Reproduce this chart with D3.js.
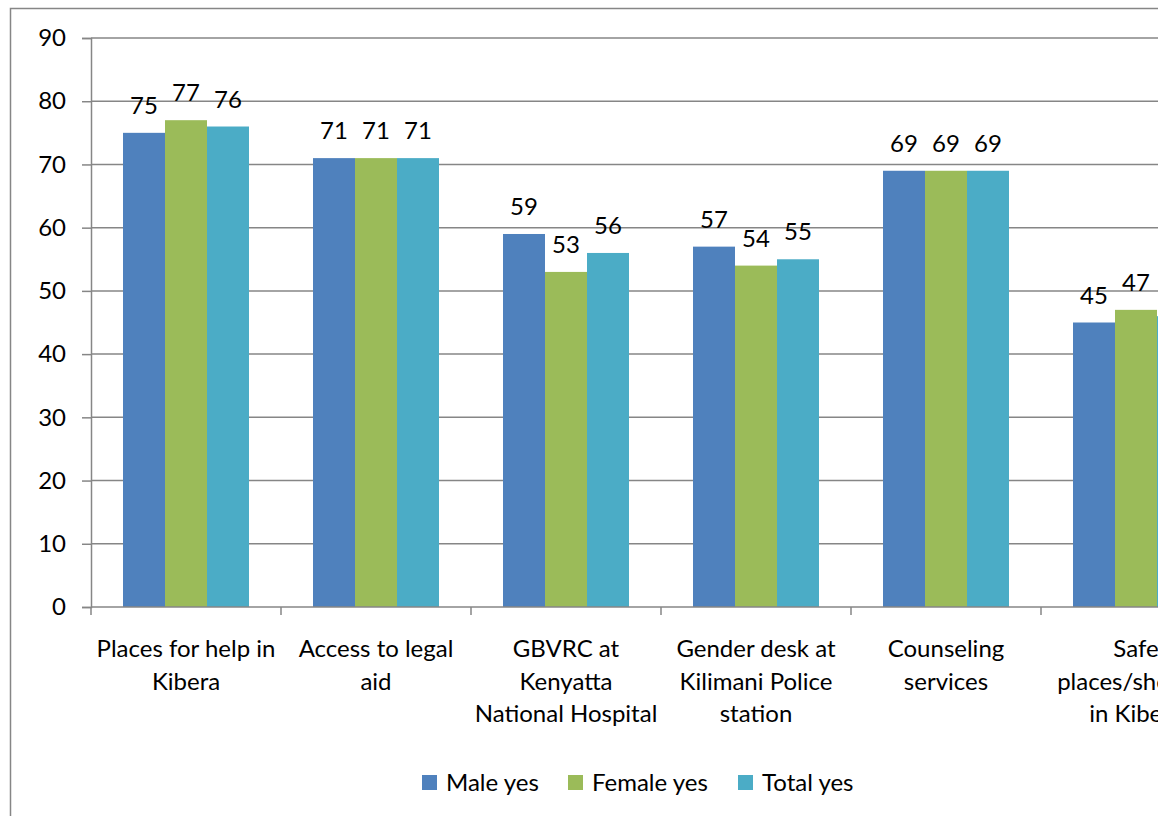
<!DOCTYPE html>
<html>
<head>
<meta charset="utf-8">
<script src="https://cdn.jsdelivr.net/npm/d3@7"></script>
<style>
  html, body { margin: 0; padding: 0; background: #fff; }
  svg { display: block; font-family: Lato, "Open Sans", sans-serif; }
</style>
</head>
<body>
<svg id="chart" width="1158" height="816"></svg>
<script>
// Category names (line breaks mark where the axis labels wrap)
const categories = [
  "Places for help in\nKibera",
  "Access to legal\naid",
  "GBVRC at\nKenyatta\nNational Hospital",
  "Gender desk at\nKilimani Police\nstation",
  "Counseling\nservices",
  "Safe\nplaces/shelters\nin Kibera"
];
const seriesNames = ["Male yes", "Female yes", "Total yes"];
const maleYes   = [75, 71, 59, 57, 69, 45];
const femaleYes = [77, 71, 53, 54, 69, 47];
const totalYes  = [76, 71, 56, 55, 69, 46];
const yTicks = [0, 10, 20, 30, 40, 50, 60, 70, 80, 90];
const colors = ["#4F81BD", "#9BBB59", "#4BACC6"];

const seriesValues = [maleYes, femaleYes, totalYes];
const rows = categories.map((c, i) => ({
  category: c,
  values: seriesNames.map((s, j) => ({ series: s, value: seriesValues[j][i] }))
}));

const FONT = 24;
const svg = d3.select("#chart");
const plot = { left: 91, top: 38, bottom: 607, bandWidth: 190 };
const gridColor = "#868686";

// Outer chart frame (continues past the right and bottom edges)
svg.append("rect")
  .attr("x", 10.5).attr("y", 8.5)
  .attr("width", 1300).attr("height", 900)
  .attr("fill", "none").attr("stroke", gridColor).attr("stroke-width", 1.5);

const y = d3.scaleLinear().domain([0, 90]).range([plot.bottom, plot.top]);
const x0 = d3.scaleBand().domain(categories)
  .range([plot.left, plot.left + plot.bandWidth * categories.length])
  .paddingInner(0).paddingOuter(0);
const x1 = d3.scaleBand().domain(seriesNames).range([32, plot.bandWidth - 32]).padding(0);

// Horizontal gridlines
svg.append("g").selectAll("line")
  .data(yTicks.filter(t => t > 0))
  .join("line")
  .attr("x1", plot.left).attr("x2", 1300)
  .attr("y1", d => y(d)).attr("y2", d => y(d))
  .attr("stroke", gridColor).attr("stroke-width", 1.5);

// Y axis
const yAxis = d3.axisLeft(y).tickValues(yTicks).tickSize(9).tickPadding(16);
const gy = svg.append("g").attr("transform", `translate(${plot.left},0)`).call(yAxis);
gy.select(".domain").attr("stroke", gridColor).attr("stroke-width", 1.5);
gy.selectAll(".tick line").attr("stroke", gridColor).attr("stroke-width", 1.5);
gy.selectAll(".tick text").attr("font-size", FONT).attr("fill", "#000")
  .attr("font-family", "Lato, 'Open Sans', sans-serif");

// Bars
const groups = svg.append("g").selectAll("g")
  .data(rows).join("g")
  .attr("transform", d => `translate(${x0(d.category)},0)`);

groups.selectAll("rect")
  .data(d => d.values).join("rect")
  .attr("x", d => x1(d.series))
  .attr("width", x1.bandwidth())
  .attr("y", d => y(d.value))
  .attr("height", d => y(0) - y(d.value))
  .attr("fill", (d, i) => colors[i]);

// Value labels
groups.selectAll("text.value")
  .data(d => d.values).join("text")
  .attr("class", "value")
  .attr("x", d => x1(d.series) + x1.bandwidth() / 2)
  .attr("y", d => y(d.value) - 19)
  .attr("text-anchor", "middle")
  .attr("font-size", FONT)
  .attr("fill", "#000")
  .text(d => d3.format("d")(d.value));

// X axis line and category tick marks
svg.append("line")
  .attr("x1", plot.left).attr("x2", 1300)
  .attr("y1", plot.bottom).attr("y2", plot.bottom)
  .attr("stroke", gridColor).attr("stroke-width", 1.5);
svg.append("g").selectAll("line")
  .data(d3.range(categories.length + 1))
  .join("line")
  .attr("x1", i => plot.left + i * plot.bandWidth)
  .attr("x2", i => plot.left + i * plot.bandWidth)
  .attr("y1", plot.bottom).attr("y2", plot.bottom + 8)
  .attr("stroke", gridColor).attr("stroke-width", 1.5);

// Category labels
svg.append("g").selectAll("text")
  .data(categories).join("text")
  .attr("text-anchor", "middle")
  .attr("font-size", FONT)
  .attr("fill", "#000")
  .each(function (d) {
    const t = d3.select(this);
    d.split("\n").forEach((line, k) => {
      t.append("tspan")
        .attr("x", x0(d) + x0.bandwidth() / 2)
        .attr("y", 657 + k * 32.5)
        .text(line);
    });
  });

// Legend
const legendX = [422, 568, 738];
const legend = svg.append("g").selectAll("g")
  .data(seriesNames).join("g")
  .attr("transform", (d, i) => `translate(${legendX[i]},775)`);
legend.append("rect").attr("width", 15).attr("height", 15)
  .attr("fill", (d, i) => colors[i]);
legend.append("text").attr("x", 24).attr("y", 16)
  .attr("font-size", FONT).attr("fill", "#000").text(d => d);
</script>
</body>
</html>
